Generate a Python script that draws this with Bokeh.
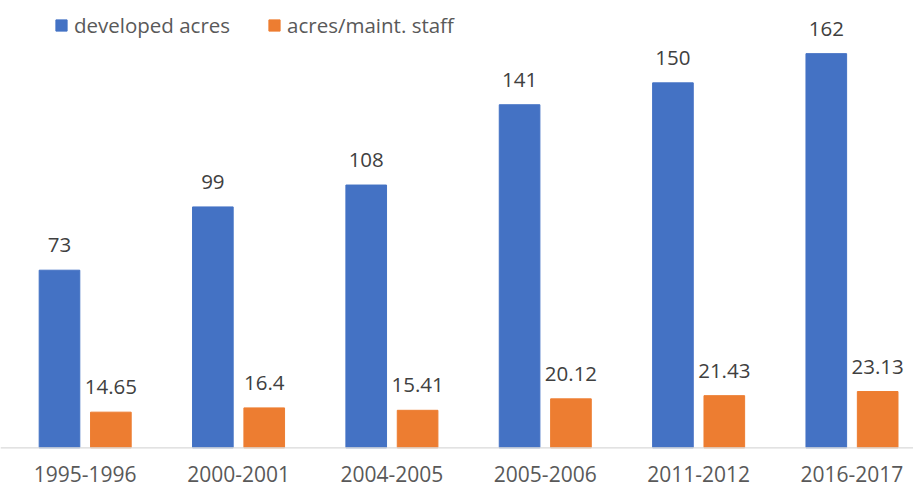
from bokeh.plotting import figure
from bokeh.models import ColumnDataSource, LabelSet, Span, Range1d, Legend, LegendItem
from bokeh.core.properties import value
from bokeh.embed import file_html
from bokeh.resources import INLINE

periods = ["1995-1996", "2000-2001", "2004-2005", "2005-2006", "2011-2012", "2016-2017"]
developed_acres = [73, 99, 108, 141, 150, 162]
acres_per_staff = [14.65, 16.4, 15.41, 20.12, 21.43, 23.13]
acres_per_staff_labels = ["14.65", "16.4", "15.41", "20.12", "21.43", "23.13"]

BLUE = "#4472C4"
ORANGE = "#ED7D31"
FONT = "Open Sans"

W, H = 913, 487
left_px = 8.0
px_per_cat = 153.36
px_per_unit = 2.433
base_px = 447.3

centers = [i + 0.5 for i in range(len(periods))]
off = 0.1675
bw = 0.265

src = ColumnDataSource(dict(
    xb=[c - off for c in centers],
    xo=[c + off for c in centers],
    xc=centers,
    dev=developed_acres,
    aps=acres_per_staff,
    dev_lab=[str(v) for v in developed_acres],
    aps_lab=acres_per_staff_labels,
    per=periods,
    zero=[0] * len(periods),
))

p = figure(width=W, height=H, output_backend="svg", toolbar_location=None,
           x_axis_type=None, y_axis_type=None,
           x_range=Range1d(-left_px / px_per_cat, (W - left_px) / px_per_cat),
           y_range=Range1d(-(H - base_px) / px_per_unit, base_px / px_per_unit),
           min_border=0, min_border_left=0, min_border_right=0,
           min_border_top=0, min_border_bottom=0)
p.outline_line_color = None
p.background_fill_color = "white"
p.border_fill_color = "white"

r1 = p.vbar(x="xb", top="dev", bottom=0, width=bw, source=src,
            fill_color=BLUE, line_color=BLUE)
r2 = p.vbar(x="xo", top="aps", bottom=0, width=bw, source=src,
            fill_color=ORANGE, line_color=ORANGE)

p.add_layout(Span(location=0, dimension="width", line_color="#D9D9D9", line_width=1.3))

lab_kw = dict(source=src, text_align="center", text_baseline="alphabetic",
              text_font=value(FONT), text_font_size="20.5px", text_color="#404040")
p.add_layout(LabelSet(x="xb", y="dev", text="dev_lab", y_offset=18, **lab_kw))
p.add_layout(LabelSet(x="xo", y="aps", text="aps_lab", y_offset=18, **lab_kw))

p.add_layout(LabelSet(x="xc", y="zero", text="per", y_offset=-34,
                      source=src, text_align="center", text_baseline="alphabetic",
                      text_font=value(FONT), text_font_size="21px",
                      text_color="#595959"))

legend = Legend(items=[LegendItem(label="developed acres", renderers=[r1]),
                       LegendItem(label="acres/maint. staff", renderers=[r2])],
                orientation="horizontal", location=(54, 448),
                glyph_width=14, glyph_height=14, label_standoff=6, spacing=37,
                padding=0, margin=0, border_line_color=None,
                background_fill_alpha=0,
                label_text_font=FONT, label_text_font_size="20.5px",
                label_text_color="#595959")
p.add_layout(legend)

open("out.html", "w").write(file_html(p, INLINE))
